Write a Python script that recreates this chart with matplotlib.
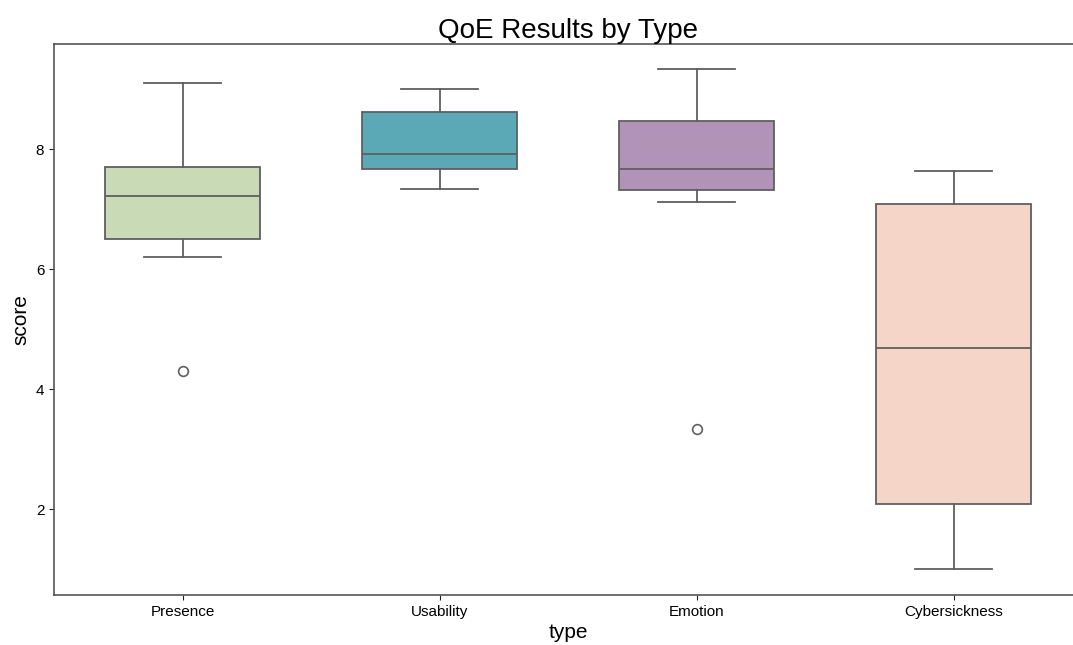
import matplotlib
matplotlib.use("Agg")
import matplotlib.pyplot as plt

### Data (box statistics)
types = ["Presence", "Usability", "Emotion", "Cybersickness"]
whisker_low = [6.20, 7.33, 7.11, 1.00]
q1 = [6.50, 7.67, 7.31, 2.08]
median = [7.21, 7.92, 7.67, 4.69]
q3 = [7.70, 8.62, 8.47, 7.09]
whisker_high = [9.10, 9.00, 9.34, 7.63]
outliers = [[4.30], [], [3.33], []]

colors = ["#c8dab6", "#5ba9b6", "#b093b6", "#f6d5c9"]
line_color = "#5f5f5f"

plt.rcParams["font.family"] = ["Liberation Sans", "DejaVu Sans"]

stats = []
for i, name in enumerate(types):
    stats.append({
        "label": name,
        "whislo": whisker_low[i],
        "q1": q1[i],
        "med": median[i],
        "q3": q3[i],
        "whishi": whisker_high[i],
        "fliers": outliers[i],
    })

### Create the plot
fig = plt.figure(figsize=(10.73, 6.45), dpi=100)
ax = fig.add_axes([54 / 1073, 50 / 645, 1028 / 1073, 551 / 645])

bp = ax.bxp(stats, positions=range(len(types)), widths=0.6, patch_artist=True,
            boxprops=dict(edgecolor=line_color, linewidth=1.3),
            medianprops=dict(color=line_color, linewidth=1.3),
            whiskerprops=dict(color=line_color, linewidth=1.3),
            capprops=dict(color=line_color, linewidth=1.3),
            flierprops=dict(marker="o", markerfacecolor="none",
                            markeredgecolor=line_color, markersize=7, markeredgewidth=1.2),
            capwidths=0.3)

for patch, c in zip(bp["boxes"], colors):
    patch.set_facecolor(c)

ax.set_xlim(-0.5, 3.5)
ax.set_ylim(0.567, 9.75)
ax.set_yticks([2, 4, 6, 8])
ax.set_xticks(range(len(types)))
ax.set_xticklabels(types)
ax.tick_params(labelsize=11, color="#222222")

for s in ax.spines.values():
    s.set_color("#555555")
    s.set_linewidth(1.2)

ax.set_title("QoE Results by Type", fontsize=20, pad=4)
ax.set_xlabel("type", fontsize=15, labelpad=3)
ax.set_ylabel("score", fontsize=15)

plt.savefig("out.png", dpi=100)
